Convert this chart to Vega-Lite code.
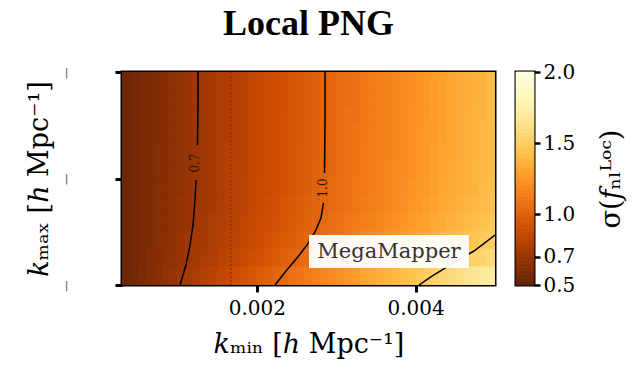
{
  "$schema": "https://vega.github.io/schema/vega-lite/v6.json",
  "padding": {"left": 23, "top": 4, "right": 0, "bottom": 0},
  "background": "white",
  "config": {
    "font": "DejaVu Serif",
    "view": {"stroke": "black", "strokeWidth": 3},
    "axis": {"grid": false, "domain": false, "tickColor": "black", "labelColor": "black", "titleColor": "black", "labelFont": "DejaVu Serif", "titleFont": "DejaVu Serif", "titleFontWeight": "normal"}
  },
  "hconcat": [
    {
      "width": 373,
      "height": 213,
      "title": {"text": "Local PNG", "font": "Liberation Serif", "fontSize": 36, "fontWeight": "bold", "color": "black", "anchor": "middle", "frame": "group", "baseline": "alphabetic", "offset": -5},
      "layer": [
        {
          "data": {"values": [
{"kmin":0.00035,"kmax":0.33,"sig":0.53},{"kmin":0.00045,"kmax":0.33,"sig":0.55},{"kmin":0.00055,"kmax":0.33,"sig":0.57},{"kmin":0.00065,"kmax":0.33,"sig":0.59},{"kmin":0.00075,"kmax":0.33,"sig":0.60},{"kmin":0.00085,"kmax":0.33,"sig":0.62},{"kmin":0.00095,"kmax":0.33,"sig":0.64},{"kmin":0.00105,"kmax":0.33,"sig":0.66},{"kmin":0.00115,"kmax":0.33,"sig":0.68},{"kmin":0.00125,"kmax":0.33,"sig":0.70},{"kmin":0.00135,"kmax":0.33,"sig":0.72},{"kmin":0.00145,"kmax":0.33,"sig":0.74},{"kmin":0.00155,"kmax":0.33,"sig":0.75},{"kmin":0.00165,"kmax":0.33,"sig":0.77},{"kmin":0.00175,"kmax":0.33,"sig":0.79},{"kmin":0.00185,"kmax":0.33,"sig":0.81},{"kmin":0.00195,"kmax":0.33,"sig":0.83},{"kmin":0.00205,"kmax":0.33,"sig":0.85},{"kmin":0.00215,"kmax":0.33,"sig":0.87},{"kmin":0.00225,"kmax":0.33,"sig":0.89},{"kmin":0.00235,"kmax":0.33,"sig":0.90},{"kmin":0.00245,"kmax":0.33,"sig":0.92},{"kmin":0.00255,"kmax":0.33,"sig":0.94},{"kmin":0.00265,"kmax":0.33,"sig":0.96},{"kmin":0.00275,"kmax":0.33,"sig":0.98},{"kmin":0.00285,"kmax":0.33,"sig":1.00},{"kmin":0.00295,"kmax":0.33,"sig":1.02},{"kmin":0.00305,"kmax":0.33,"sig":1.04},{"kmin":0.00315,"kmax":0.33,"sig":1.05},{"kmin":0.00325,"kmax":0.33,"sig":1.07},{"kmin":0.00335,"kmax":0.33,"sig":1.09},{"kmin":0.00345,"kmax":0.33,"sig":1.11},{"kmin":0.00355,"kmax":0.33,"sig":1.13},{"kmin":0.00365,"kmax":0.33,"sig":1.15},{"kmin":0.00375,"kmax":0.33,"sig":1.17},{"kmin":0.00385,"kmax":0.33,"sig":1.19},{"kmin":0.00395,"kmax":0.33,"sig":1.20},{"kmin":0.00405,"kmax":0.33,"sig":1.22},{"kmin":0.00415,"kmax":0.33,"sig":1.24},{"kmin":0.00425,"kmax":0.33,"sig":1.26},{"kmin":0.00435,"kmax":0.33,"sig":1.28},{"kmin":0.00445,"kmax":0.33,"sig":1.30},{"kmin":0.00455,"kmax":0.33,"sig":1.32},{"kmin":0.00465,"kmax":0.33,"sig":1.34},{"kmin":0.00475,"kmax":0.33,"sig":1.35},{"kmin":0.00485,"kmax":0.33,"sig":1.37},{"kmin":0.00495,"kmax":0.33,"sig":1.39},
{"kmin":0.00035,"kmax":0.31,"sig":0.53},{"kmin":0.00045,"kmax":0.31,"sig":0.55},{"kmin":0.00055,"kmax":0.31,"sig":0.57},{"kmin":0.00065,"kmax":0.31,"sig":0.59},{"kmin":0.00075,"kmax":0.31,"sig":0.60},{"kmin":0.00085,"kmax":0.31,"sig":0.62},{"kmin":0.00095,"kmax":0.31,"sig":0.64},{"kmin":0.00105,"kmax":0.31,"sig":0.66},{"kmin":0.00115,"kmax":0.31,"sig":0.68},{"kmin":0.00125,"kmax":0.31,"sig":0.70},{"kmin":0.00135,"kmax":0.31,"sig":0.72},{"kmin":0.00145,"kmax":0.31,"sig":0.74},{"kmin":0.00155,"kmax":0.31,"sig":0.75},{"kmin":0.00165,"kmax":0.31,"sig":0.77},{"kmin":0.00175,"kmax":0.31,"sig":0.79},{"kmin":0.00185,"kmax":0.31,"sig":0.81},{"kmin":0.00195,"kmax":0.31,"sig":0.83},{"kmin":0.00205,"kmax":0.31,"sig":0.85},{"kmin":0.00215,"kmax":0.31,"sig":0.87},{"kmin":0.00225,"kmax":0.31,"sig":0.89},{"kmin":0.00235,"kmax":0.31,"sig":0.90},{"kmin":0.00245,"kmax":0.31,"sig":0.92},{"kmin":0.00255,"kmax":0.31,"sig":0.94},{"kmin":0.00265,"kmax":0.31,"sig":0.96},{"kmin":0.00275,"kmax":0.31,"sig":0.98},{"kmin":0.00285,"kmax":0.31,"sig":1.00},{"kmin":0.00295,"kmax":0.31,"sig":1.02},{"kmin":0.00305,"kmax":0.31,"sig":1.04},{"kmin":0.00315,"kmax":0.31,"sig":1.05},{"kmin":0.00325,"kmax":0.31,"sig":1.07},{"kmin":0.00335,"kmax":0.31,"sig":1.09},{"kmin":0.00345,"kmax":0.31,"sig":1.11},{"kmin":0.00355,"kmax":0.31,"sig":1.13},{"kmin":0.00365,"kmax":0.31,"sig":1.15},{"kmin":0.00375,"kmax":0.31,"sig":1.17},{"kmin":0.00385,"kmax":0.31,"sig":1.19},{"kmin":0.00395,"kmax":0.31,"sig":1.20},{"kmin":0.00405,"kmax":0.31,"sig":1.22},{"kmin":0.00415,"kmax":0.31,"sig":1.24},{"kmin":0.00425,"kmax":0.31,"sig":1.26},{"kmin":0.00435,"kmax":0.31,"sig":1.28},{"kmin":0.00445,"kmax":0.31,"sig":1.30},{"kmin":0.00455,"kmax":0.31,"sig":1.32},{"kmin":0.00465,"kmax":0.31,"sig":1.34},{"kmin":0.00475,"kmax":0.31,"sig":1.35},{"kmin":0.00485,"kmax":0.31,"sig":1.37},{"kmin":0.00495,"kmax":0.31,"sig":1.39},
{"kmin":0.00035,"kmax":0.29,"sig":0.53},{"kmin":0.00045,"kmax":0.29,"sig":0.55},{"kmin":0.00055,"kmax":0.29,"sig":0.57},{"kmin":0.00065,"kmax":0.29,"sig":0.59},{"kmin":0.00075,"kmax":0.29,"sig":0.60},{"kmin":0.00085,"kmax":0.29,"sig":0.62},{"kmin":0.00095,"kmax":0.29,"sig":0.64},{"kmin":0.00105,"kmax":0.29,"sig":0.66},{"kmin":0.00115,"kmax":0.29,"sig":0.68},{"kmin":0.00125,"kmax":0.29,"sig":0.70},{"kmin":0.00135,"kmax":0.29,"sig":0.72},{"kmin":0.00145,"kmax":0.29,"sig":0.74},{"kmin":0.00155,"kmax":0.29,"sig":0.75},{"kmin":0.00165,"kmax":0.29,"sig":0.77},{"kmin":0.00175,"kmax":0.29,"sig":0.79},{"kmin":0.00185,"kmax":0.29,"sig":0.81},{"kmin":0.00195,"kmax":0.29,"sig":0.83},{"kmin":0.00205,"kmax":0.29,"sig":0.85},{"kmin":0.00215,"kmax":0.29,"sig":0.87},{"kmin":0.00225,"kmax":0.29,"sig":0.89},{"kmin":0.00235,"kmax":0.29,"sig":0.91},{"kmin":0.00245,"kmax":0.29,"sig":0.92},{"kmin":0.00255,"kmax":0.29,"sig":0.94},{"kmin":0.00265,"kmax":0.29,"sig":0.96},{"kmin":0.00275,"kmax":0.29,"sig":0.98},{"kmin":0.00285,"kmax":0.29,"sig":1.00},{"kmin":0.00295,"kmax":0.29,"sig":1.02},{"kmin":0.00305,"kmax":0.29,"sig":1.04},{"kmin":0.00315,"kmax":0.29,"sig":1.06},{"kmin":0.00325,"kmax":0.29,"sig":1.07},{"kmin":0.00335,"kmax":0.29,"sig":1.09},{"kmin":0.00345,"kmax":0.29,"sig":1.11},{"kmin":0.00355,"kmax":0.29,"sig":1.13},{"kmin":0.00365,"kmax":0.29,"sig":1.15},{"kmin":0.00375,"kmax":0.29,"sig":1.17},{"kmin":0.00385,"kmax":0.29,"sig":1.19},{"kmin":0.00395,"kmax":0.29,"sig":1.21},{"kmin":0.00405,"kmax":0.29,"sig":1.22},{"kmin":0.00415,"kmax":0.29,"sig":1.24},{"kmin":0.00425,"kmax":0.29,"sig":1.26},{"kmin":0.00435,"kmax":0.29,"sig":1.28},{"kmin":0.00445,"kmax":0.29,"sig":1.30},{"kmin":0.00455,"kmax":0.29,"sig":1.32},{"kmin":0.00465,"kmax":0.29,"sig":1.34},{"kmin":0.00475,"kmax":0.29,"sig":1.36},{"kmin":0.00485,"kmax":0.29,"sig":1.37},{"kmin":0.00495,"kmax":0.29,"sig":1.39},
{"kmin":0.00035,"kmax":0.27,"sig":0.53},{"kmin":0.00045,"kmax":0.27,"sig":0.55},{"kmin":0.00055,"kmax":0.27,"sig":0.57},{"kmin":0.00065,"kmax":0.27,"sig":0.59},{"kmin":0.00075,"kmax":0.27,"sig":0.60},{"kmin":0.00085,"kmax":0.27,"sig":0.62},{"kmin":0.00095,"kmax":0.27,"sig":0.64},{"kmin":0.00105,"kmax":0.27,"sig":0.66},{"kmin":0.00115,"kmax":0.27,"sig":0.68},{"kmin":0.00125,"kmax":0.27,"sig":0.70},{"kmin":0.00135,"kmax":0.27,"sig":0.72},{"kmin":0.00145,"kmax":0.27,"sig":0.74},{"kmin":0.00155,"kmax":0.27,"sig":0.75},{"kmin":0.00165,"kmax":0.27,"sig":0.77},{"kmin":0.00175,"kmax":0.27,"sig":0.79},{"kmin":0.00185,"kmax":0.27,"sig":0.81},{"kmin":0.00195,"kmax":0.27,"sig":0.83},{"kmin":0.00205,"kmax":0.27,"sig":0.85},{"kmin":0.00215,"kmax":0.27,"sig":0.87},{"kmin":0.00225,"kmax":0.27,"sig":0.89},{"kmin":0.00235,"kmax":0.27,"sig":0.91},{"kmin":0.00245,"kmax":0.27,"sig":0.92},{"kmin":0.00255,"kmax":0.27,"sig":0.94},{"kmin":0.00265,"kmax":0.27,"sig":0.96},{"kmin":0.00275,"kmax":0.27,"sig":0.98},{"kmin":0.00285,"kmax":0.27,"sig":1.00},{"kmin":0.00295,"kmax":0.27,"sig":1.02},{"kmin":0.00305,"kmax":0.27,"sig":1.04},{"kmin":0.00315,"kmax":0.27,"sig":1.06},{"kmin":0.00325,"kmax":0.27,"sig":1.08},{"kmin":0.00335,"kmax":0.27,"sig":1.09},{"kmin":0.00345,"kmax":0.27,"sig":1.11},{"kmin":0.00355,"kmax":0.27,"sig":1.13},{"kmin":0.00365,"kmax":0.27,"sig":1.15},{"kmin":0.00375,"kmax":0.27,"sig":1.17},{"kmin":0.00385,"kmax":0.27,"sig":1.19},{"kmin":0.00395,"kmax":0.27,"sig":1.21},{"kmin":0.00405,"kmax":0.27,"sig":1.23},{"kmin":0.00415,"kmax":0.27,"sig":1.25},{"kmin":0.00425,"kmax":0.27,"sig":1.26},{"kmin":0.00435,"kmax":0.27,"sig":1.28},{"kmin":0.00445,"kmax":0.27,"sig":1.30},{"kmin":0.00455,"kmax":0.27,"sig":1.32},{"kmin":0.00465,"kmax":0.27,"sig":1.34},{"kmin":0.00475,"kmax":0.27,"sig":1.36},{"kmin":0.00485,"kmax":0.27,"sig":1.38},{"kmin":0.00495,"kmax":0.27,"sig":1.40},
{"kmin":0.00035,"kmax":0.25,"sig":0.53},{"kmin":0.00045,"kmax":0.25,"sig":0.55},{"kmin":0.00055,"kmax":0.25,"sig":0.57},{"kmin":0.00065,"kmax":0.25,"sig":0.59},{"kmin":0.00075,"kmax":0.25,"sig":0.61},{"kmin":0.00085,"kmax":0.25,"sig":0.62},{"kmin":0.00095,"kmax":0.25,"sig":0.64},{"kmin":0.00105,"kmax":0.25,"sig":0.66},{"kmin":0.00115,"kmax":0.25,"sig":0.68},{"kmin":0.00125,"kmax":0.25,"sig":0.70},{"kmin":0.00135,"kmax":0.25,"sig":0.72},{"kmin":0.00145,"kmax":0.25,"sig":0.74},{"kmin":0.00155,"kmax":0.25,"sig":0.76},{"kmin":0.00165,"kmax":0.25,"sig":0.78},{"kmin":0.00175,"kmax":0.25,"sig":0.79},{"kmin":0.00185,"kmax":0.25,"sig":0.81},{"kmin":0.00195,"kmax":0.25,"sig":0.83},{"kmin":0.00205,"kmax":0.25,"sig":0.85},{"kmin":0.00215,"kmax":0.25,"sig":0.87},{"kmin":0.00225,"kmax":0.25,"sig":0.89},{"kmin":0.00235,"kmax":0.25,"sig":0.91},{"kmin":0.00245,"kmax":0.25,"sig":0.93},{"kmin":0.00255,"kmax":0.25,"sig":0.95},{"kmin":0.00265,"kmax":0.25,"sig":0.96},{"kmin":0.00275,"kmax":0.25,"sig":0.98},{"kmin":0.00285,"kmax":0.25,"sig":1.00},{"kmin":0.00295,"kmax":0.25,"sig":1.02},{"kmin":0.00305,"kmax":0.25,"sig":1.04},{"kmin":0.00315,"kmax":0.25,"sig":1.06},{"kmin":0.00325,"kmax":0.25,"sig":1.08},{"kmin":0.00335,"kmax":0.25,"sig":1.10},{"kmin":0.00345,"kmax":0.25,"sig":1.12},{"kmin":0.00355,"kmax":0.25,"sig":1.13},{"kmin":0.00365,"kmax":0.25,"sig":1.15},{"kmin":0.00375,"kmax":0.25,"sig":1.17},{"kmin":0.00385,"kmax":0.25,"sig":1.19},{"kmin":0.00395,"kmax":0.25,"sig":1.21},{"kmin":0.00405,"kmax":0.25,"sig":1.23},{"kmin":0.00415,"kmax":0.25,"sig":1.25},{"kmin":0.00425,"kmax":0.25,"sig":1.27},{"kmin":0.00435,"kmax":0.25,"sig":1.29},{"kmin":0.00445,"kmax":0.25,"sig":1.30},{"kmin":0.00455,"kmax":0.25,"sig":1.32},{"kmin":0.00465,"kmax":0.25,"sig":1.34},{"kmin":0.00475,"kmax":0.25,"sig":1.36},{"kmin":0.00485,"kmax":0.25,"sig":1.38},{"kmin":0.00495,"kmax":0.25,"sig":1.40},
{"kmin":0.00035,"kmax":0.23,"sig":0.53},{"kmin":0.00045,"kmax":0.23,"sig":0.55},{"kmin":0.00055,"kmax":0.23,"sig":0.57},{"kmin":0.00065,"kmax":0.23,"sig":0.59},{"kmin":0.00075,"kmax":0.23,"sig":0.61},{"kmin":0.00085,"kmax":0.23,"sig":0.62},{"kmin":0.00095,"kmax":0.23,"sig":0.64},{"kmin":0.00105,"kmax":0.23,"sig":0.66},{"kmin":0.00115,"kmax":0.23,"sig":0.68},{"kmin":0.00125,"kmax":0.23,"sig":0.70},{"kmin":0.00135,"kmax":0.23,"sig":0.72},{"kmin":0.00145,"kmax":0.23,"sig":0.74},{"kmin":0.00155,"kmax":0.23,"sig":0.76},{"kmin":0.00165,"kmax":0.23,"sig":0.78},{"kmin":0.00175,"kmax":0.23,"sig":0.80},{"kmin":0.00185,"kmax":0.23,"sig":0.81},{"kmin":0.00195,"kmax":0.23,"sig":0.83},{"kmin":0.00205,"kmax":0.23,"sig":0.85},{"kmin":0.00215,"kmax":0.23,"sig":0.87},{"kmin":0.00225,"kmax":0.23,"sig":0.89},{"kmin":0.00235,"kmax":0.23,"sig":0.91},{"kmin":0.00245,"kmax":0.23,"sig":0.93},{"kmin":0.00255,"kmax":0.23,"sig":0.95},{"kmin":0.00265,"kmax":0.23,"sig":0.97},{"kmin":0.00275,"kmax":0.23,"sig":0.99},{"kmin":0.00285,"kmax":0.23,"sig":1.00},{"kmin":0.00295,"kmax":0.23,"sig":1.02},{"kmin":0.00305,"kmax":0.23,"sig":1.04},{"kmin":0.00315,"kmax":0.23,"sig":1.06},{"kmin":0.00325,"kmax":0.23,"sig":1.08},{"kmin":0.00335,"kmax":0.23,"sig":1.10},{"kmin":0.00345,"kmax":0.23,"sig":1.12},{"kmin":0.00355,"kmax":0.23,"sig":1.14},{"kmin":0.00365,"kmax":0.23,"sig":1.16},{"kmin":0.00375,"kmax":0.23,"sig":1.18},{"kmin":0.00385,"kmax":0.23,"sig":1.19},{"kmin":0.00395,"kmax":0.23,"sig":1.21},{"kmin":0.00405,"kmax":0.23,"sig":1.23},{"kmin":0.00415,"kmax":0.23,"sig":1.25},{"kmin":0.00425,"kmax":0.23,"sig":1.27},{"kmin":0.00435,"kmax":0.23,"sig":1.29},{"kmin":0.00445,"kmax":0.23,"sig":1.31},{"kmin":0.00455,"kmax":0.23,"sig":1.33},{"kmin":0.00465,"kmax":0.23,"sig":1.35},{"kmin":0.00475,"kmax":0.23,"sig":1.37},{"kmin":0.00485,"kmax":0.23,"sig":1.38},{"kmin":0.00495,"kmax":0.23,"sig":1.40},
{"kmin":0.00035,"kmax":0.21,"sig":0.53},{"kmin":0.00045,"kmax":0.21,"sig":0.55},{"kmin":0.00055,"kmax":0.21,"sig":0.57},{"kmin":0.00065,"kmax":0.21,"sig":0.59},{"kmin":0.00075,"kmax":0.21,"sig":0.61},{"kmin":0.00085,"kmax":0.21,"sig":0.63},{"kmin":0.00095,"kmax":0.21,"sig":0.64},{"kmin":0.00105,"kmax":0.21,"sig":0.66},{"kmin":0.00115,"kmax":0.21,"sig":0.68},{"kmin":0.00125,"kmax":0.21,"sig":0.70},{"kmin":0.00135,"kmax":0.21,"sig":0.72},{"kmin":0.00145,"kmax":0.21,"sig":0.74},{"kmin":0.00155,"kmax":0.21,"sig":0.76},{"kmin":0.00165,"kmax":0.21,"sig":0.78},{"kmin":0.00175,"kmax":0.21,"sig":0.80},{"kmin":0.00185,"kmax":0.21,"sig":0.82},{"kmin":0.00195,"kmax":0.21,"sig":0.84},{"kmin":0.00205,"kmax":0.21,"sig":0.86},{"kmin":0.00215,"kmax":0.21,"sig":0.87},{"kmin":0.00225,"kmax":0.21,"sig":0.89},{"kmin":0.00235,"kmax":0.21,"sig":0.91},{"kmin":0.00245,"kmax":0.21,"sig":0.93},{"kmin":0.00255,"kmax":0.21,"sig":0.95},{"kmin":0.00265,"kmax":0.21,"sig":0.97},{"kmin":0.00275,"kmax":0.21,"sig":0.99},{"kmin":0.00285,"kmax":0.21,"sig":1.01},{"kmin":0.00295,"kmax":0.21,"sig":1.03},{"kmin":0.00305,"kmax":0.21,"sig":1.05},{"kmin":0.00315,"kmax":0.21,"sig":1.07},{"kmin":0.00325,"kmax":0.21,"sig":1.09},{"kmin":0.00335,"kmax":0.21,"sig":1.10},{"kmin":0.00345,"kmax":0.21,"sig":1.12},{"kmin":0.00355,"kmax":0.21,"sig":1.14},{"kmin":0.00365,"kmax":0.21,"sig":1.16},{"kmin":0.00375,"kmax":0.21,"sig":1.18},{"kmin":0.00385,"kmax":0.21,"sig":1.20},{"kmin":0.00395,"kmax":0.21,"sig":1.22},{"kmin":0.00405,"kmax":0.21,"sig":1.24},{"kmin":0.00415,"kmax":0.21,"sig":1.26},{"kmin":0.00425,"kmax":0.21,"sig":1.28},{"kmin":0.00435,"kmax":0.21,"sig":1.30},{"kmin":0.00445,"kmax":0.21,"sig":1.32},{"kmin":0.00455,"kmax":0.21,"sig":1.33},{"kmin":0.00465,"kmax":0.21,"sig":1.35},{"kmin":0.00475,"kmax":0.21,"sig":1.37},{"kmin":0.00485,"kmax":0.21,"sig":1.39},{"kmin":0.00495,"kmax":0.21,"sig":1.41},
{"kmin":0.00035,"kmax":0.19,"sig":0.53},{"kmin":0.00045,"kmax":0.19,"sig":0.55},{"kmin":0.00055,"kmax":0.19,"sig":0.57},{"kmin":0.00065,"kmax":0.19,"sig":0.59},{"kmin":0.00075,"kmax":0.19,"sig":0.61},{"kmin":0.00085,"kmax":0.19,"sig":0.63},{"kmin":0.00095,"kmax":0.19,"sig":0.65},{"kmin":0.00105,"kmax":0.19,"sig":0.67},{"kmin":0.00115,"kmax":0.19,"sig":0.68},{"kmin":0.00125,"kmax":0.19,"sig":0.70},{"kmin":0.00135,"kmax":0.19,"sig":0.72},{"kmin":0.00145,"kmax":0.19,"sig":0.74},{"kmin":0.00155,"kmax":0.19,"sig":0.76},{"kmin":0.00165,"kmax":0.19,"sig":0.78},{"kmin":0.00175,"kmax":0.19,"sig":0.80},{"kmin":0.00185,"kmax":0.19,"sig":0.82},{"kmin":0.00195,"kmax":0.19,"sig":0.84},{"kmin":0.00205,"kmax":0.19,"sig":0.86},{"kmin":0.00215,"kmax":0.19,"sig":0.88},{"kmin":0.00225,"kmax":0.19,"sig":0.90},{"kmin":0.00235,"kmax":0.19,"sig":0.92},{"kmin":0.00245,"kmax":0.19,"sig":0.94},{"kmin":0.00255,"kmax":0.19,"sig":0.96},{"kmin":0.00265,"kmax":0.19,"sig":0.98},{"kmin":0.00275,"kmax":0.19,"sig":1.00},{"kmin":0.00285,"kmax":0.19,"sig":1.02},{"kmin":0.00295,"kmax":0.19,"sig":1.03},{"kmin":0.00305,"kmax":0.19,"sig":1.05},{"kmin":0.00315,"kmax":0.19,"sig":1.07},{"kmin":0.00325,"kmax":0.19,"sig":1.09},{"kmin":0.00335,"kmax":0.19,"sig":1.11},{"kmin":0.00345,"kmax":0.19,"sig":1.13},{"kmin":0.00355,"kmax":0.19,"sig":1.15},{"kmin":0.00365,"kmax":0.19,"sig":1.17},{"kmin":0.00375,"kmax":0.19,"sig":1.19},{"kmin":0.00385,"kmax":0.19,"sig":1.21},{"kmin":0.00395,"kmax":0.19,"sig":1.23},{"kmin":0.00405,"kmax":0.19,"sig":1.25},{"kmin":0.00415,"kmax":0.19,"sig":1.27},{"kmin":0.00425,"kmax":0.19,"sig":1.29},{"kmin":0.00435,"kmax":0.19,"sig":1.31},{"kmin":0.00445,"kmax":0.19,"sig":1.33},{"kmin":0.00455,"kmax":0.19,"sig":1.35},{"kmin":0.00465,"kmax":0.19,"sig":1.37},{"kmin":0.00475,"kmax":0.19,"sig":1.39},{"kmin":0.00485,"kmax":0.19,"sig":1.40},{"kmin":0.00495,"kmax":0.19,"sig":1.42},
{"kmin":0.00035,"kmax":0.17,"sig":0.53},{"kmin":0.00045,"kmax":0.17,"sig":0.55},{"kmin":0.00055,"kmax":0.17,"sig":0.57},{"kmin":0.00065,"kmax":0.17,"sig":0.59},{"kmin":0.00075,"kmax":0.17,"sig":0.61},{"kmin":0.00085,"kmax":0.17,"sig":0.63},{"kmin":0.00095,"kmax":0.17,"sig":0.65},{"kmin":0.00105,"kmax":0.17,"sig":0.67},{"kmin":0.00115,"kmax":0.17,"sig":0.69},{"kmin":0.00125,"kmax":0.17,"sig":0.71},{"kmin":0.00135,"kmax":0.17,"sig":0.73},{"kmin":0.00145,"kmax":0.17,"sig":0.75},{"kmin":0.00155,"kmax":0.17,"sig":0.77},{"kmin":0.00165,"kmax":0.17,"sig":0.79},{"kmin":0.00175,"kmax":0.17,"sig":0.81},{"kmin":0.00185,"kmax":0.17,"sig":0.83},{"kmin":0.00195,"kmax":0.17,"sig":0.85},{"kmin":0.00205,"kmax":0.17,"sig":0.87},{"kmin":0.00215,"kmax":0.17,"sig":0.89},{"kmin":0.00225,"kmax":0.17,"sig":0.91},{"kmin":0.00235,"kmax":0.17,"sig":0.93},{"kmin":0.00245,"kmax":0.17,"sig":0.95},{"kmin":0.00255,"kmax":0.17,"sig":0.97},{"kmin":0.00265,"kmax":0.17,"sig":0.99},{"kmin":0.00275,"kmax":0.17,"sig":1.01},{"kmin":0.00285,"kmax":0.17,"sig":1.03},{"kmin":0.00295,"kmax":0.17,"sig":1.05},{"kmin":0.00305,"kmax":0.17,"sig":1.07},{"kmin":0.00315,"kmax":0.17,"sig":1.09},{"kmin":0.00325,"kmax":0.17,"sig":1.11},{"kmin":0.00335,"kmax":0.17,"sig":1.13},{"kmin":0.00345,"kmax":0.17,"sig":1.15},{"kmin":0.00355,"kmax":0.17,"sig":1.17},{"kmin":0.00365,"kmax":0.17,"sig":1.19},{"kmin":0.00375,"kmax":0.17,"sig":1.21},{"kmin":0.00385,"kmax":0.17,"sig":1.23},{"kmin":0.00395,"kmax":0.17,"sig":1.25},{"kmin":0.00405,"kmax":0.17,"sig":1.27},{"kmin":0.00415,"kmax":0.17,"sig":1.29},{"kmin":0.00425,"kmax":0.17,"sig":1.31},{"kmin":0.00435,"kmax":0.17,"sig":1.33},{"kmin":0.00445,"kmax":0.17,"sig":1.35},{"kmin":0.00455,"kmax":0.17,"sig":1.37},{"kmin":0.00465,"kmax":0.17,"sig":1.39},{"kmin":0.00475,"kmax":0.17,"sig":1.41},{"kmin":0.00485,"kmax":0.17,"sig":1.43},{"kmin":0.00495,"kmax":0.17,"sig":1.45},
{"kmin":0.00035,"kmax":0.15,"sig":0.53},{"kmin":0.00045,"kmax":0.15,"sig":0.55},{"kmin":0.00055,"kmax":0.15,"sig":0.57},{"kmin":0.00065,"kmax":0.15,"sig":0.59},{"kmin":0.00075,"kmax":0.15,"sig":0.61},{"kmin":0.00085,"kmax":0.15,"sig":0.63},{"kmin":0.00095,"kmax":0.15,"sig":0.65},{"kmin":0.00105,"kmax":0.15,"sig":0.68},{"kmin":0.00115,"kmax":0.15,"sig":0.70},{"kmin":0.00125,"kmax":0.15,"sig":0.72},{"kmin":0.00135,"kmax":0.15,"sig":0.74},{"kmin":0.00145,"kmax":0.15,"sig":0.76},{"kmin":0.00155,"kmax":0.15,"sig":0.78},{"kmin":0.00165,"kmax":0.15,"sig":0.80},{"kmin":0.00175,"kmax":0.15,"sig":0.82},{"kmin":0.00185,"kmax":0.15,"sig":0.84},{"kmin":0.00195,"kmax":0.15,"sig":0.86},{"kmin":0.00205,"kmax":0.15,"sig":0.88},{"kmin":0.00215,"kmax":0.15,"sig":0.91},{"kmin":0.00225,"kmax":0.15,"sig":0.93},{"kmin":0.00235,"kmax":0.15,"sig":0.95},{"kmin":0.00245,"kmax":0.15,"sig":0.97},{"kmin":0.00255,"kmax":0.15,"sig":0.99},{"kmin":0.00265,"kmax":0.15,"sig":1.01},{"kmin":0.00275,"kmax":0.15,"sig":1.03},{"kmin":0.00285,"kmax":0.15,"sig":1.05},{"kmin":0.00295,"kmax":0.15,"sig":1.07},{"kmin":0.00305,"kmax":0.15,"sig":1.09},{"kmin":0.00315,"kmax":0.15,"sig":1.11},{"kmin":0.00325,"kmax":0.15,"sig":1.13},{"kmin":0.00335,"kmax":0.15,"sig":1.16},{"kmin":0.00345,"kmax":0.15,"sig":1.18},{"kmin":0.00355,"kmax":0.15,"sig":1.20},{"kmin":0.00365,"kmax":0.15,"sig":1.22},{"kmin":0.00375,"kmax":0.15,"sig":1.24},{"kmin":0.00385,"kmax":0.15,"sig":1.26},{"kmin":0.00395,"kmax":0.15,"sig":1.28},{"kmin":0.00405,"kmax":0.15,"sig":1.30},{"kmin":0.00415,"kmax":0.15,"sig":1.32},{"kmin":0.00425,"kmax":0.15,"sig":1.34},{"kmin":0.00435,"kmax":0.15,"sig":1.36},{"kmin":0.00445,"kmax":0.15,"sig":1.39},{"kmin":0.00455,"kmax":0.15,"sig":1.41},{"kmin":0.00465,"kmax":0.15,"sig":1.43},{"kmin":0.00475,"kmax":0.15,"sig":1.45},{"kmin":0.00485,"kmax":0.15,"sig":1.47},{"kmin":0.00495,"kmax":0.15,"sig":1.49},
{"kmin":0.00035,"kmax":0.13,"sig":0.53},{"kmin":0.00045,"kmax":0.13,"sig":0.55},{"kmin":0.00055,"kmax":0.13,"sig":0.57},{"kmin":0.00065,"kmax":0.13,"sig":0.60},{"kmin":0.00075,"kmax":0.13,"sig":0.62},{"kmin":0.00085,"kmax":0.13,"sig":0.64},{"kmin":0.00095,"kmax":0.13,"sig":0.66},{"kmin":0.00105,"kmax":0.13,"sig":0.69},{"kmin":0.00115,"kmax":0.13,"sig":0.71},{"kmin":0.00125,"kmax":0.13,"sig":0.73},{"kmin":0.00135,"kmax":0.13,"sig":0.75},{"kmin":0.00145,"kmax":0.13,"sig":0.77},{"kmin":0.00155,"kmax":0.13,"sig":0.80},{"kmin":0.00165,"kmax":0.13,"sig":0.82},{"kmin":0.00175,"kmax":0.13,"sig":0.84},{"kmin":0.00185,"kmax":0.13,"sig":0.86},{"kmin":0.00195,"kmax":0.13,"sig":0.89},{"kmin":0.00205,"kmax":0.13,"sig":0.91},{"kmin":0.00215,"kmax":0.13,"sig":0.93},{"kmin":0.00225,"kmax":0.13,"sig":0.95},{"kmin":0.00235,"kmax":0.13,"sig":0.98},{"kmin":0.00245,"kmax":0.13,"sig":1.00},{"kmin":0.00255,"kmax":0.13,"sig":1.02},{"kmin":0.00265,"kmax":0.13,"sig":1.04},{"kmin":0.00275,"kmax":0.13,"sig":1.07},{"kmin":0.00285,"kmax":0.13,"sig":1.09},{"kmin":0.00295,"kmax":0.13,"sig":1.11},{"kmin":0.00305,"kmax":0.13,"sig":1.13},{"kmin":0.00315,"kmax":0.13,"sig":1.15},{"kmin":0.00325,"kmax":0.13,"sig":1.18},{"kmin":0.00335,"kmax":0.13,"sig":1.20},{"kmin":0.00345,"kmax":0.13,"sig":1.22},{"kmin":0.00355,"kmax":0.13,"sig":1.24},{"kmin":0.00365,"kmax":0.13,"sig":1.27},{"kmin":0.00375,"kmax":0.13,"sig":1.29},{"kmin":0.00385,"kmax":0.13,"sig":1.31},{"kmin":0.00395,"kmax":0.13,"sig":1.33},{"kmin":0.00405,"kmax":0.13,"sig":1.36},{"kmin":0.00415,"kmax":0.13,"sig":1.38},{"kmin":0.00425,"kmax":0.13,"sig":1.40},{"kmin":0.00435,"kmax":0.13,"sig":1.42},{"kmin":0.00445,"kmax":0.13,"sig":1.44},{"kmin":0.00455,"kmax":0.13,"sig":1.47},{"kmin":0.00465,"kmax":0.13,"sig":1.49},{"kmin":0.00475,"kmax":0.13,"sig":1.51},{"kmin":0.00485,"kmax":0.13,"sig":1.53},{"kmin":0.00495,"kmax":0.13,"sig":1.56},
{"kmin":0.00035,"kmax":0.11,"sig":0.53},{"kmin":0.00045,"kmax":0.11,"sig":0.55},{"kmin":0.00055,"kmax":0.11,"sig":0.58},{"kmin":0.00065,"kmax":0.11,"sig":0.60},{"kmin":0.00075,"kmax":0.11,"sig":0.63},{"kmin":0.00085,"kmax":0.11,"sig":0.66},{"kmin":0.00095,"kmax":0.11,"sig":0.68},{"kmin":0.00105,"kmax":0.11,"sig":0.71},{"kmin":0.00115,"kmax":0.11,"sig":0.73},{"kmin":0.00125,"kmax":0.11,"sig":0.76},{"kmin":0.00135,"kmax":0.11,"sig":0.78},{"kmin":0.00145,"kmax":0.11,"sig":0.81},{"kmin":0.00155,"kmax":0.11,"sig":0.83},{"kmin":0.00165,"kmax":0.11,"sig":0.86},{"kmin":0.00175,"kmax":0.11,"sig":0.88},{"kmin":0.00185,"kmax":0.11,"sig":0.91},{"kmin":0.00195,"kmax":0.11,"sig":0.93},{"kmin":0.00205,"kmax":0.11,"sig":0.96},{"kmin":0.00215,"kmax":0.11,"sig":0.98},{"kmin":0.00225,"kmax":0.11,"sig":1.01},{"kmin":0.00235,"kmax":0.11,"sig":1.03},{"kmin":0.00245,"kmax":0.11,"sig":1.06},{"kmin":0.00255,"kmax":0.11,"sig":1.08},{"kmin":0.00265,"kmax":0.11,"sig":1.11},{"kmin":0.00275,"kmax":0.11,"sig":1.14},{"kmin":0.00285,"kmax":0.11,"sig":1.16},{"kmin":0.00295,"kmax":0.11,"sig":1.19},{"kmin":0.00305,"kmax":0.11,"sig":1.21},{"kmin":0.00315,"kmax":0.11,"sig":1.24},{"kmin":0.00325,"kmax":0.11,"sig":1.26},{"kmin":0.00335,"kmax":0.11,"sig":1.29},{"kmin":0.00345,"kmax":0.11,"sig":1.31},{"kmin":0.00355,"kmax":0.11,"sig":1.34},{"kmin":0.00365,"kmax":0.11,"sig":1.36},{"kmin":0.00375,"kmax":0.11,"sig":1.39},{"kmin":0.00385,"kmax":0.11,"sig":1.41},{"kmin":0.00395,"kmax":0.11,"sig":1.44},{"kmin":0.00405,"kmax":0.11,"sig":1.46},{"kmin":0.00415,"kmax":0.11,"sig":1.49},{"kmin":0.00425,"kmax":0.11,"sig":1.51},{"kmin":0.00435,"kmax":0.11,"sig":1.54},{"kmin":0.00445,"kmax":0.11,"sig":1.57},{"kmin":0.00455,"kmax":0.11,"sig":1.59},{"kmin":0.00465,"kmax":0.11,"sig":1.62},{"kmin":0.00475,"kmax":0.11,"sig":1.64},{"kmin":0.00485,"kmax":0.11,"sig":1.67},{"kmin":0.00495,"kmax":0.11,"sig":1.69}
          ]},
          "mark": {"type": "rect", "clip": true, "width": {"band": 1.08}, "height": {"band": 1.08}},
          "encoding": {
            "x": {"field": "kmin", "type": "ordinal", "axis": null, "scale": {"paddingInner": 0, "paddingOuter": 0}},
            "y": {"field": "kmax", "type": "ordinal", "sort": "descending", "axis": null, "scale": {"paddingInner": 0, "paddingOuter": 0}},
            "color": {"field": "sig", "type": "quantitative", "legend": null,
                      "scale": {"domain": [0.5, 0.6875, 0.875, 1.0625, 1.25, 1.4375, 1.625, 1.8125, 2.0],
                                "range": ["#662506", "#993404", "#cc4c02", "#ec7014", "#fe9929", "#fec44f", "#fee391", "#fff7bc", "#ffffe5"]}}
          }
        },
        {
          "layer": [
            {
              "data": {"values": [
                {"line": "0.7 upper", "kmin": 0.001258, "kmax": 0.34},
                {"line": "0.7 upper", "kmin": 0.001258, "kmax": 0.3084},
                {"line": "0.7 upper", "kmin": 0.001251, "kmax": 0.2577},
                {"line": "0.7 lower", "kmin": 0.001232, "kmax": 0.2183},
                {"line": "0.7 lower", "kmin": 0.00122, "kmax": 0.1958},
                {"line": "0.7 lower", "kmin": 0.001195, "kmax": 0.1676},
                {"line": "0.7 lower", "kmin": 0.001157, "kmax": 0.145},
                {"line": "0.7 lower", "kmin": 0.001106, "kmax": 0.1225},
                {"line": "0.7 lower", "kmin": 0.001031, "kmax": 0.1},
                {"line": "1.0 upper", "kmin": 0.002858, "kmax": 0.34},
                {"line": "1.0 upper", "kmin": 0.002858, "kmax": 0.2859},
                {"line": "1.0 upper", "kmin": 0.002852, "kmax": 0.2262},
                {"line": "1.0 lower", "kmin": 0.002839, "kmax": 0.1924},
                {"line": "1.0 lower", "kmin": 0.002807, "kmax": 0.1755},
                {"line": "1.0 lower", "kmin": 0.002732, "kmax": 0.1597},
                {"line": "1.0 lower", "kmin": 0.002631, "kmax": 0.145},
                {"line": "1.0 lower", "kmin": 0.002505, "kmax": 0.1304},
                {"line": "1.0 lower", "kmin": 0.002366, "kmax": 0.1157},
                {"line": "1.0 lower", "kmin": 0.002228, "kmax": 0.1},
                {"line": "1.5", "kmin": 0.004042, "kmax": 0.1},
                {"line": "1.5", "kmin": 0.004206, "kmax": 0.1101},
                {"line": "1.5", "kmin": 0.00437, "kmax": 0.1191},
                {"line": "1.5", "kmin": 0.004559, "kmax": 0.1293},
                {"line": "1.5", "kmin": 0.004735, "kmax": 0.1383},
                {"line": "1.5", "kmin": 0.005, "kmax": 0.1563}
              ]},
              "mark": {"type": "line", "color": "black", "strokeWidth": 1.5, "clip": true},
              "encoding": {
                "x": {"field": "kmin", "type": "quantitative", "scale": {"domain": [0.0003, 0.005], "nice": false, "zero": false},
                      "axis": {"values": [0.002, 0.004], "format": ".3f", "tickSize": 7, "tickWidth": 3, "labelFontSize": 20, "labelPadding": 6, "labelFlush": false, "title": "𝑘ₘᵢₙ [ℎ Mpc⁻¹]", "titleFontSize": 27, "titlePadding": 13}},
                "y": {"field": "kmax", "type": "quantitative", "scale": {"domain": [0.1, 0.34], "nice": false, "zero": false},
                      "axis": {"values": [0.1, 0.22, 0.34], "tickSize": 7, "tickWidth": 3, "labelExpr": "'|'", "labelFont": "DejaVu Sans", "labelFontSize": 11, "labelColor": "#555555", "labelPadding": 47, "title": "𝑘ₘₐₓ [ℎ Mpc⁻¹]", "titleFontSize": 27, "titlePadding": 11}},
                "detail": {"field": "line"},
                "order": {"value": null}
              }
            },
            {
              "data": {"values": [{"kmin": 0.00167}]},
              "mark": {"type": "rule", "color": "#9e2a0b", "strokeWidth": 1.5, "strokeDash": [2, 2]},
              "encoding": {"x": {"field": "kmin", "type": "quantitative"}}
            },
            {
              "data": {"values": [{"kmin": 0.002656, "kmin2": 0.004672, "kmax": 0.1563, "kmax2": 0.1191}]},
              "mark": {"type": "rect", "fill": "white", "opacity": 0.95},
              "encoding": {
                "x": {"field": "kmin", "type": "quantitative"},
                "x2": {"field": "kmin2"},
                "y": {"field": "kmax", "type": "quantitative"},
                "y2": {"field": "kmax2"}
              }
            },
            {
              "data": {"values": [{"kmin": 0.003664, "kmax": 0.1372, "label": "MegaMapper"}]},
              "mark": {"type": "text", "font": "DejaVu Serif", "fontSize": 21, "color": "#333333", "align": "center", "baseline": "middle"},
              "encoding": {
                "x": {"field": "kmin", "type": "quantitative"},
                "y": {"field": "kmax", "type": "quantitative"},
                "text": {"field": "label"}
              }
            },
            {
              "data": {"values": [
                {"kmin": 0.00122, "kmax": 0.2375, "label": "0.7"},
                {"kmin": 0.002833, "kmax": 0.2093, "label": "1.0"}
              ]},
              "mark": {"type": "text", "font": "DejaVu Serif", "fontSize": 12, "color": "#2a1405", "angle": 270, "align": "center", "baseline": "middle"},
              "encoding": {
                "x": {"field": "kmin", "type": "quantitative"},
                "y": {"field": "kmax", "type": "quantitative"},
                "text": {"field": "label"}
              }
            }
          ]
        }
      ],
      "resolve": {"scale": {"x": "independent", "y": "independent"}}
    },
    {
      "width": 18,
      "height": 213,
      "data": {"values": [
        {"lo":0.5,"hi":0.525},{"lo":0.525,"hi":0.55},{"lo":0.55,"hi":0.575},{"lo":0.575,"hi":0.6},{"lo":0.6,"hi":0.625},{"lo":0.625,"hi":0.65},{"lo":0.65,"hi":0.675},{"lo":0.675,"hi":0.7},{"lo":0.7,"hi":0.725},{"lo":0.725,"hi":0.75},
        {"lo":0.75,"hi":0.775},{"lo":0.775,"hi":0.8},{"lo":0.8,"hi":0.825},{"lo":0.825,"hi":0.85},{"lo":0.85,"hi":0.875},{"lo":0.875,"hi":0.9},{"lo":0.9,"hi":0.925},{"lo":0.925,"hi":0.95},{"lo":0.95,"hi":0.975},{"lo":0.975,"hi":1.0},
        {"lo":1.0,"hi":1.025},{"lo":1.025,"hi":1.05},{"lo":1.05,"hi":1.075},{"lo":1.075,"hi":1.1},{"lo":1.1,"hi":1.125},{"lo":1.125,"hi":1.15},{"lo":1.15,"hi":1.175},{"lo":1.175,"hi":1.2},{"lo":1.2,"hi":1.225},{"lo":1.225,"hi":1.25},
        {"lo":1.25,"hi":1.275},{"lo":1.275,"hi":1.3},{"lo":1.3,"hi":1.325},{"lo":1.325,"hi":1.35},{"lo":1.35,"hi":1.375},{"lo":1.375,"hi":1.4},{"lo":1.4,"hi":1.425},{"lo":1.425,"hi":1.45},{"lo":1.45,"hi":1.475},{"lo":1.475,"hi":1.5},
        {"lo":1.5,"hi":1.525},{"lo":1.525,"hi":1.55},{"lo":1.55,"hi":1.575},{"lo":1.575,"hi":1.6},{"lo":1.6,"hi":1.625},{"lo":1.625,"hi":1.65},{"lo":1.65,"hi":1.675},{"lo":1.675,"hi":1.7},{"lo":1.7,"hi":1.725},{"lo":1.725,"hi":1.75},
        {"lo":1.75,"hi":1.775},{"lo":1.775,"hi":1.8},{"lo":1.8,"hi":1.825},{"lo":1.825,"hi":1.85},{"lo":1.85,"hi":1.875},{"lo":1.875,"hi":1.9},{"lo":1.9,"hi":1.925},{"lo":1.925,"hi":1.95},{"lo":1.95,"hi":1.975},{"lo":1.975,"hi":2.0}
      ]},
      "mark": {"type": "rect", "strokeWidth": 0.8},
      "encoding": {
        "y": {"field": "lo", "type": "quantitative", "scale": {"domain": [0.5, 2], "nice": false, "zero": false},
              "axis": {"orient": "right", "values": [0.5, 0.7, 1.0, 1.5, 2.0], "format": ".1f", "tickSize": 6, "tickWidth": 2.5, "labelFontSize": 20, "labelPadding": 3, "labelFlush": false, "labelOverlap": false, "title": "σ(𝑓ₙₗᴸᵒᶜ)", "titleFontSize": 27, "titleAngle": 270, "titleBaseline": "top", "titlePadding": 24}},
        "y2": {"field": "hi"},
        "color": {"field": "lo", "type": "quantitative", "legend": null,
                  "scale": {"domain": [0.5, 0.6875, 0.875, 1.0625, 1.25, 1.4375, 1.625, 1.8125, 2.0],
                            "range": ["#662506", "#993404", "#cc4c02", "#ec7014", "#fe9929", "#fec44f", "#fee391", "#fff7bc", "#ffffe5"]}},
        "stroke": {"field": "lo", "type": "quantitative", "legend": null,
                   "scale": {"domain": [0.5, 0.6875, 0.875, 1.0625, 1.25, 1.4375, 1.625, 1.8125, 2.0],
                             "range": ["#662506", "#993404", "#cc4c02", "#ec7014", "#fe9929", "#fec44f", "#fee391", "#fff7bc", "#ffffe5"]}}
      }
    }
  ],
  "spacing": 21,
  "bounds": "flush"
}
